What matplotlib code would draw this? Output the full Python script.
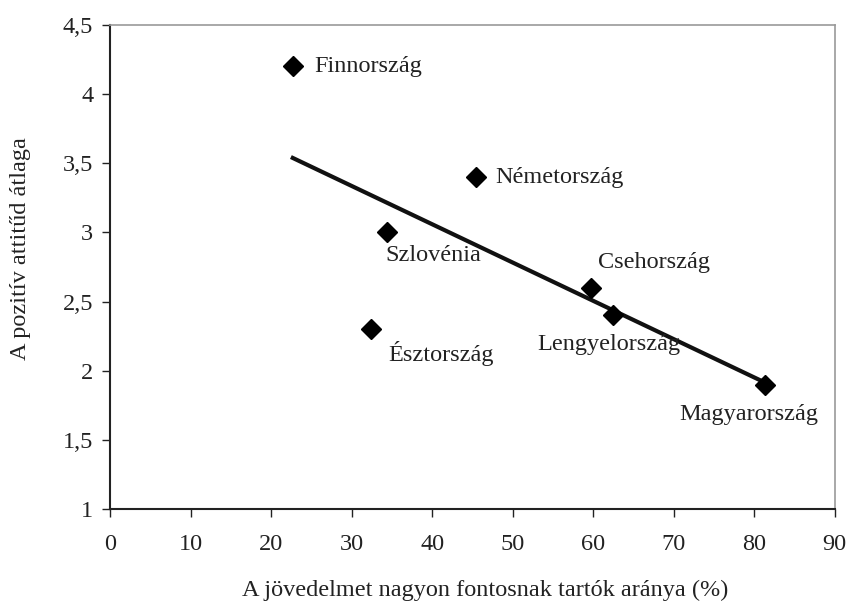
import numpy as np
import matplotlib
matplotlib.use('Agg')
import matplotlib.pyplot as plt

plt.rcParams['font.family'] = ['Liberation Serif', 'DejaVu Serif']

# adatok
orszagok = ['Finnország', 'Németország', 'Szlovénia', 'Észtország',
            'Csehország', 'Lengyelország', 'Magyarország']
jovedelem = [22.7, 45.4, 34.4, 32.4, 59.7, 62.5, 81.3]
attitud = [4.2, 3.4, 3.0, 2.3, 2.6, 2.4, 1.9]
x_ticks = [0, 10, 20, 30, 40, 50, 60, 70, 80, 90]
y_ticks = [1, 1.5, 2, 2.5, 3, 3.5, 4, 4.5]

# felirat eltolás (pixel)
offsets = [(22, 0), (20, 0), (-2, -23), (17, -24),
           (7, 25), (-76, -29), (-85, -30)]

fig = plt.figure(figsize=(8.5, 6.07), dpi=100)
ax = fig.add_axes([0.1294, 0.1614, 0.8526, 0.7974])

# trendvonal
m, b = np.polyfit(jovedelem, attitud, 1)
xs = np.array([min(jovedelem), max(jovedelem)])
ax.plot(xs, m * xs + b, color='#111111', lw=3, zorder=2)

ax.plot(jovedelem, attitud, linestyle='none', marker='D', markersize=10,
        color='black', zorder=3)

for nev, xv, yv, (dx, dy) in zip(orszagok, jovedelem, attitud, offsets):
    ax.annotate(nev, (xv, yv), xytext=(dx, dy), textcoords='offset pixels',
                ha='left', va='center', fontsize=17.5, color='#222222')

ax.set_xlim(0, 90)
ax.set_ylim(1, 4.5)
ax.set_xticks(x_ticks)
ax.set_yticks(y_ticks)
ax.set_yticklabels([str(t).replace('.', ',') if t % 1 else str(int(t)) for t in y_ticks])
ax.tick_params(direction='out', length=6, width=1, labelsize=17.5, colors='#222222', pad=6)
ax.tick_params(axis='x', pad=12)

for s in ['top', 'right']:
    ax.spines[s].set_color('#999999')
    ax.spines[s].set_linewidth(1.2)
for s in ['left', 'bottom']:
    ax.spines[s].set_color('#222222')
    ax.spines[s].set_linewidth(1.5)

fig.text(0.571, 0.028, 'A jövedelmet nagyon fontosnak tartók aránya (%)',
         ha='center', va='center', fontsize=17.5, color='#222222')
fig.text(0.024, 0.591, 'A pozitív attitűd átlaga', rotation=90,
         ha='center', va='center', fontsize=17.5, color='#222222')

fig.savefig('out.png', dpi=100)
